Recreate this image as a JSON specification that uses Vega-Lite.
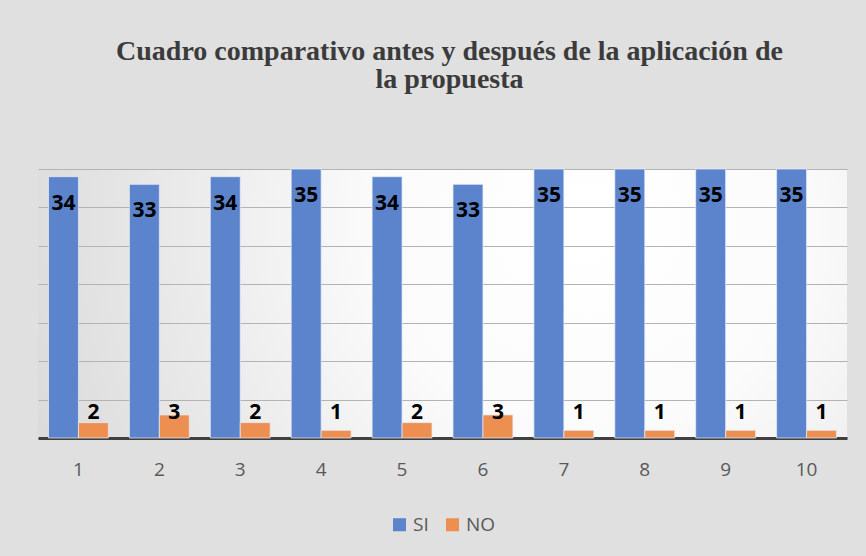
{
  "$schema": "https://vega.github.io/schema/vega-lite/v6.json",
  "width": 809,
  "height": 269,
  "autosize": "none",
  "padding": {"left": 38, "top": 169, "right": 19, "bottom": 118},
  "background": "#e0e0e0",
  "config": {
    "view": {
      "stroke": null,
      "fill": {
        "gradient": "radial",
        "x1": 0.68, "y1": 0.4, "r1": 0,
        "x2": 0.68, "y2": 0.4, "r2": 0.75,
        "stops": [
          {"offset": 0, "color": "#ffffff"},
          {"offset": 0.35, "color": "#fbfbfb"},
          {"offset": 1, "color": "#d9d9d9"}
        ]
      }
    },
    "font": "Open Sans",
    "legend": {"layout": {"bottom": {"anchor": "middle"}}}
  },
  "title": {
    "text": ["Cuadro comparativo antes y después de la aplicación de", "la propuesta"],
    "font": "Liberation Serif",
    "fontSize": 28,
    "fontWeight": "bold",
    "color": "#3b3b3b",
    "lineHeight": 28,
    "anchor": "middle",
    "dx": 7,
    "offset": 75
  },
  "data": {
    "values": [
      {"q": "1", "serie": "SI", "valor": 34}, {"q": "1", "serie": "NO", "valor": 2},
      {"q": "2", "serie": "SI", "valor": 33}, {"q": "2", "serie": "NO", "valor": 3},
      {"q": "3", "serie": "SI", "valor": 34}, {"q": "3", "serie": "NO", "valor": 2},
      {"q": "4", "serie": "SI", "valor": 35}, {"q": "4", "serie": "NO", "valor": 1},
      {"q": "5", "serie": "SI", "valor": 34}, {"q": "5", "serie": "NO", "valor": 2},
      {"q": "6", "serie": "SI", "valor": 33}, {"q": "6", "serie": "NO", "valor": 3},
      {"q": "7", "serie": "SI", "valor": 35}, {"q": "7", "serie": "NO", "valor": 1},
      {"q": "8", "serie": "SI", "valor": 35}, {"q": "8", "serie": "NO", "valor": 1},
      {"q": "9", "serie": "SI", "valor": 35}, {"q": "9", "serie": "NO", "valor": 1},
      {"q": "10", "serie": "SI", "valor": 35}, {"q": "10", "serie": "NO", "valor": 1}
    ]
  },
  "resolve": {"axis": {"y": "independent"}},
  "encoding": {
    "x": {
      "field": "q", "type": "ordinal", "sort": null,
      "scale": {"paddingInner": 0.26, "paddingOuter": 0.13},
      "axis": {
        "title": null, "labelAngle": 0, "ticks": false,
        "domainColor": "#404040", "domainWidth": 3,
        "labelFontSize": 19, "labelColor": "#595959", "labelPadding": 22
      }
    },
    "xOffset": {"field": "serie", "type": "nominal", "sort": ["SI", "NO"]}
  },
  "layer": [
    {
      "mark": {"type": "bar", "stroke": "#e8eefa", "strokeWidth": 1, "strokeOpacity": 0.7},
      "encoding": {
        "y": {
          "field": "valor", "type": "quantitative",
          "scale": {"domain": [0, 35], "nice": false},
          "axis": {
            "title": null, "labels": false, "ticks": false, "domain": false,
            "values": [0, 5, 10, 15, 20, 25, 30, 35],
            "gridColor": "#b3b3b3", "gridWidth": 1
          }
        },
        "color": {
          "field": "serie", "type": "nominal",
          "scale": {"domain": ["SI", "NO"], "range": ["#5b84cc", "#ee8f52"]},
          "legend": {
            "title": null, "orient": "bottom", "direction": "horizontal",
            "symbolType": "square", "symbolSize": 170, "symbolStrokeWidth": 0,
            "labelFontSize": 19, "labelColor": "#595959", "columnPadding": 14,
            "offset": 36
          }
        }
      }
    },
    {
      "transform": [{"filter": "datum.serie === 'SI'"}],
      "mark": {"type": "text", "fontSize": 21, "fontWeight": "bold", "color": "#000000", "baseline": "middle", "dy": 27},
      "encoding": {
        "y": {"field": "valor", "type": "quantitative", "axis": null},
        "text": {"field": "valor", "type": "quantitative"}
      }
    },
    {
      "transform": [{"filter": "datum.serie === 'NO'"}],
      "mark": {"type": "text", "fontSize": 21, "fontWeight": "bold", "color": "#000000", "baseline": "middle"},
      "encoding": {
        "y": {"datum": 3.25, "type": "quantitative", "axis": null},
        "text": {"field": "valor", "type": "quantitative"}
      }
    }
  ]
}
